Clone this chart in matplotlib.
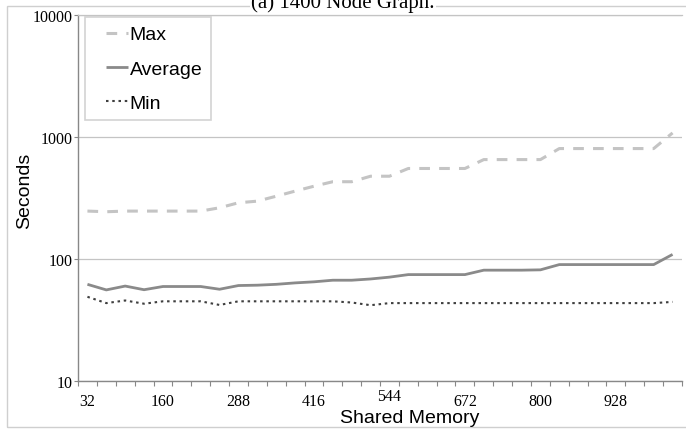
import numpy as np
import matplotlib
matplotlib.use("Agg")
import matplotlib.pyplot as plt
from matplotlib.patches import Rectangle
from matplotlib.legend_handler import HandlerLine2D

# Shared memory sizes (categories on the x axis)
memory = list(range(32, 1025, 32))
tick_labels = ["32", "160", "288", "416", "544", "672", "800", "928"]

# Run times in seconds
t_max = [247, 244, 247, 247, 247, 247, 247, 263, 289, 298, 327, 360, 395, 430, 430, 477,
         477, 552, 552, 552, 552, 653, 653, 653, 653, 804, 804, 804, 804, 804, 804, 1080]
t_avg = [62, 55.8, 60, 56, 59.5, 59.5, 59.5, 56.5, 60.6, 61, 62, 63.7, 65, 67, 67, 68.6,
         71, 74.5, 74.5, 74.5, 74.5, 81, 81, 81, 81.5, 90, 90, 90, 90, 90, 90, 109]
t_min = [49, 43.5, 45.7, 43, 45, 45, 45, 42, 45, 45, 45, 45, 45, 45, 44, 41.8,
         43.5, 43.5, 43.5, 43.5, 43.5, 43.5, 43.5, 43.5, 43.5, 43.5, 43.5, 43.5, 43.5, 43.5, 43.5, 44.5]

y_ticks = [10, 100, 1000, 10000]

x = np.arange(len(memory))

fig = plt.figure(figsize=(6.86, 4.31), dpi=100)
ax = fig.add_axes([78 / 686, 49 / 431, 604 / 686, 366 / 431])

# chart border
fig.patches.append(Rectangle((7 / 686, 3 / 431), 1.0, 421 / 431, transform=fig.transFigure,
                             fill=False, edgecolor="#cfcfcf", linewidth=1.0))

ax.plot(x, t_max, color="#c4c4c4", lw=2.2, dashes=(3.5, 3.0), label="Max")
ax.plot(x, t_avg, color="#8a8a8a", lw=2.0, solid_capstyle="butt", label="Average")
ax.plot(x, t_min, color="#3f3f3f", lw=1.5, dashes=(1.2, 1.8), dash_capstyle="butt", label="Min")

ax.set_yscale("log")
ax.set_ylim(10, 10000)
ax.set_yticks(y_ticks)
ax.set_yticklabels([str(v) for v in y_ticks], fontfamily="Liberation Serif", fontsize=11.5)
ax.yaxis.set_minor_locator(matplotlib.ticker.NullLocator())
ax.tick_params(axis="y", length=3, width=0.8, color="#888888", pad=1)
ax.grid(axis="y", color="#c4c4c4", lw=0.9)

ax.set_xlim(-0.5, len(memory) - 0.5)
ax.set_xticks(x[::4])
ax.set_xticklabels(tick_labels, fontfamily="Liberation Serif", fontsize=11.5)
ax.set_xticks(np.arange(-0.5, len(memory), 1), minor=True)
ax.tick_params(axis="x", which="major", length=0, pad=8.5)
ax.tick_params(axis="x", which="minor", length=3.5, width=0.8, color="#888888")
ax.xaxis.get_major_ticks()[4].set_pad(5)

for side in ["left", "bottom"]:
    ax.spines[side].set_color("#888888")
    ax.spines[side].set_linewidth(1.0)
ax.spines["right"].set_visible(False)
ax.spines["top"].set_color("#c4c4c4")
ax.spines["top"].set_linewidth(0.9)

fig.text(25 / 686, 1 - 191 / 431, "Seconds", rotation=90, ha="center", va="center",
         fontfamily="Liberation Sans", fontsize=14)
fig.text(410 / 686, 1 - 419 / 431, "Shared Memory", ha="center", va="center",
         fontfamily="Liberation Sans", fontsize=14)

fig.text(343 / 686, 1 - 8 / 431, "(a) 1400 Node Graph.", ha="center", va="baseline",
         fontfamily="Liberation Serif", fontsize=15,
         bbox=dict(facecolor="white", edgecolor="none", pad=1))

leg = ax.legend(loc="upper left", bbox_to_anchor=(0.0116, 0.9945), borderaxespad=0,
                prop={"family": "Liberation Sans", "size": 14}, fancybox=False,
                borderpad=0.45, labelspacing=0.85, handlelength=1.75, handletextpad=0.1,
                handler_map={matplotlib.lines.Line2D: HandlerLine2D(xpad=0.62)})
leg.get_frame().set_edgecolor("#c8c8c8")
leg.get_frame().set_linewidth(1.2)

fig.savefig("out.png", dpi=100)
